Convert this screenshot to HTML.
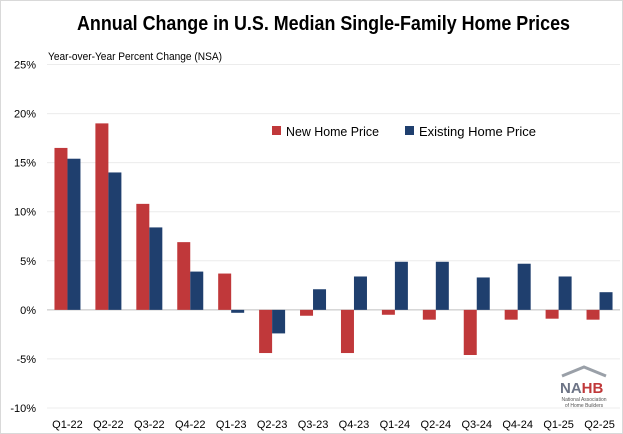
<!DOCTYPE html>
<html><head><meta charset="utf-8"><style>
body{margin:0;background:#fff;}
svg{display:block;font-family:"Liberation Sans",Arial,sans-serif;}
</style></head><body>
<svg id="c" width="623" height="434">
<rect x="0.5" y="0.5" width="622" height="433" fill="#fff" stroke="#d9d9d9"/>
<text x="77" y="30" textLength="493" lengthAdjust="spacingAndGlyphs" font-size="20" font-weight="bold" fill="#000">Annual Change in U.S. Median Single-Family Home Prices</text>
<text x="48" y="60" textLength="174" lengthAdjust="spacingAndGlyphs" font-size="11" fill="#000">Year-over-Year Percent Change (NSA)</text>
<g id="grid"></g><g id="bars"></g><g id="labels"></g>
<g>
<rect x="272" y="126" width="9" height="9" fill="#c0383a"/>
<text x="286" y="136" textLength="93" lengthAdjust="spacingAndGlyphs" font-size="13">New Home Price</text>
<rect x="405" y="126" width="9" height="9" fill="#1f3f6e"/>
<text x="419" y="136" textLength="117" lengthAdjust="spacingAndGlyphs" font-size="13">Existing Home Price</text>
</g>
<g>
<polyline points="562,376 584,367 606,376" fill="none" stroke="#9aa0a8" stroke-width="3"/>
<text x="560" y="393" font-size="15" font-weight="bold" fill="#6d7486">NA<tspan fill="#c0383a">HB</tspan></text>
<text x="584" y="401" font-size="5" text-anchor="middle" fill="#555">National Association</text>
<text x="584" y="407" font-size="5" text-anchor="middle" fill="#555">of Home Builders</text>
</g>
</svg>
<script>
const categories=["Q1-22","Q2-22","Q3-22","Q4-22","Q1-23","Q2-23","Q3-23","Q4-23","Q1-24","Q2-24","Q3-24","Q4-24","Q1-25","Q2-25"];
const newHome=[16.5,19.0,10.8,6.9,3.7,-4.4,-0.6,-4.4,-0.5,-1.0,-4.6,-1.0,-0.9,-1.0];
const existingHome=[15.4,14.0,8.4,3.9,-0.3,-2.4,2.1,3.4,4.9,4.9,3.3,4.7,3.4,1.8];
const yTicks=[-10,-5,0,5,10,15,20,25];
const NS="http://www.w3.org/2000/svg";
const x0=47,x1=620,yTop=64.5,yBot=408;
const y=v=>yBot-(v+10)/35*(yBot-yTop);
const cw=(x1-x0)/categories.length;
const cx=i=>x0+cw*(i+0.5);
function mk(t,a,p){const e=document.createElementNS(NS,t);for(const k in a)e.setAttribute(k,a[k]);p.appendChild(e);return e;}
const g=document.getElementById('grid'),b=document.getElementById('bars'),l=document.getElementById('labels');
yTicks.forEach(v=>{
  const ln=mk('line',{x1:x0,x2:x1,y1:y(v),y2:y(v),stroke:v===0?'#bfbfbf':'#ececec','stroke-width':1},g);
  
  
  const t=mk('text',{x:36,y:y(v)+4,'text-anchor':'end','font-size':11},l);
  t.textContent=v+'%';
  
  
});
const bw=13;
categories.forEach((c,i)=>{
  const vN=newHome[i],vE=existingHome[i];
  const r=mk('rect',{x:cx(i)-bw,y:Math.min(y(vN),y(0)),width:bw,height:Math.abs(y(vN)-y(0)),fill:'#c0383a'},b);
  
  
  const r2=mk('rect',{x:cx(i),y:Math.min(y(vE),y(0)),width:bw,height:Math.abs(y(vE)-y(0)),fill:'#1f3f6e'},b);
  
  
  const t=mk('text',{x:cx(i),y:428,'text-anchor':'middle','font-size':11},l);
  t.textContent=c;
  
  
});
</script>
</body></html>
